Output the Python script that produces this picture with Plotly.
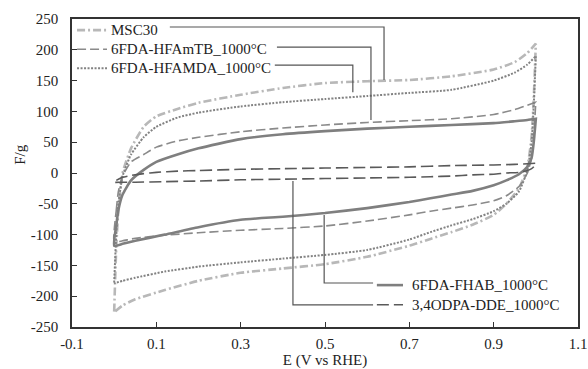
import plotly.graph_objects as go

# ---------------- data ----------------
E_up = [0, 0.005, 0.01, 0.02, 0.04, 0.07, 0.1, 0.15, 0.2, 0.3, 0.4, 0.5, 0.6, 0.7, 0.8, 0.9, 0.95, 0.98, 1.0]
E_dn = [1.0, 0.995, 0.99, 0.98, 0.96, 0.93, 0.9, 0.85, 0.8, 0.75, 0.7, 0.6, 0.5, 0.4, 0.3, 0.2, 0.12, 0.05, 0.02, 0.0]

msc30_up = [-225, -120, -60, 0, 40, 75, 92, 104, 114, 127, 138, 146, 149, 151, 157, 168, 180, 195, 210]
msc30_dn = [210, 120, 60, 10, -25, -50, -68, -84, -96, -107, -118, -136, -148, -155, -162, -175, -190, -205, -215, -226]

hfamtb_up = [-112, -60, -30, -5, 18, 30, 42, 52, 58, 67, 73, 78, 82, 85, 88, 95, 103, 110, 115]
hfamtb_dn = [115, 60, 25, 0, -22, -37, -45, -52, -57, -62, -68, -78, -86, -90, -93, -97, -101, -106, -110, -112]

hfamda_up = [-178, -100, -50, -5, 30, 58, 75, 90, 98, 108, 115, 120, 125, 130, 135, 150, 163, 176, 190]
hfamda_dn = [190, 110, 50, 5, -30, -50, -62, -75, -85, -96, -108, -125, -133, -139, -145, -152, -160, -170, -175, -179]

fhab_up = [-118, -85, -60, -35, -12, 5, 18, 30, 40, 55, 63, 68, 72, 75, 78, 81, 84, 86, 88]
fhab_dn = [88, 50, 25, 10, -2, -12, -20, -29, -35, -41, -47, -57, -65, -71, -76, -88, -100, -110, -115, -118]

odpa_up = [-15, -12, -10, -7, -4, -1, 1, 3, 4, 6, 7, 8, 9, 10, 12, 13, 14, 15, 16]
odpa_dn = [16, 10, 7, 4, 1, 0, -2, -3, -5, -6, -7, -8, -9, -10, -11, -13, -14, -15, -15, -15]

names = ["MSC30", "6FDA-HFAmTB_1000°C", "6FDA-HFAMDA_1000°C", "6FDA-FHAB_1000°C", "3,4ODPA-DDE_1000°C"]

x_tickvals = [-0.1, 0.1, 0.3, 0.5, 0.7, 0.9, 1.1]
x_ticktext = ["-0.1", "0.1", "0.3", "0.5", "0.7", "0.9", "1.1"]
y_tickvals = [-250, -200, -150, -100, -50, 0, 50, 100, 150, 200, 250]
y_ticktext = ["-250", "-200", "-150", "-100", "-50", "0", "50", "100", "150", "200", "250"]

# legend key placement (data coords): sample x0, x1, text x, y
legend_keys = [
    (-0.088, -0.017, -0.012, 232),
    (-0.088, -0.017, -0.012, 201),
    (-0.088, -0.017, -0.012, 170),
    (0.623, 0.685, 0.702, -182),
    (0.623, 0.685, 0.702, -214),
]

# leader lines: (x_start, y_start, x_corner, y_end)
leaders = [
    (0.132, 237, 0.640, 151),
    (0.386, 204.5, 0.609, 86),
    (0.381, 175, 0.566, 131),
    (0.614, -178.6, 0.498, -68),
    (0.614, -214, 0.424, -13),
]

# ---------------- figure ----------------
FONT = "Liberation Serif, Times New Roman, serif"
styles = [
    dict(color="#b8b8b8", width=2.6, dash="8px,3px,2px,3px"),
    dict(color="#8a8a8a", width=1.6, dash="9px,4px"),
    dict(color="#828282", width=2.0, dash="2px,1.5px"),
    dict(color="#7f7f7f", width=2.6, dash="solid"),
    dict(color="#5a5a5a", width=1.6, dash="12px,5px"),
]
series = [(msc30_up, msc30_dn), (hfamtb_up, hfamtb_dn), (hfamda_up, hfamda_dn),
          (fhab_up, fhab_dn), (odpa_up, odpa_dn)]

fig = go.Figure()
for name, (up, dn), st in zip(names, series, styles):
    fig.add_trace(go.Scatter(
        x=E_up + E_dn, y=up + dn, mode="lines", name=name, showlegend=False,
        line=dict(color=st["color"], width=st["width"], dash=st["dash"],
                  shape="spline", smoothing=0.5),
    ))

shapes = []
annotations = []
for xs, ys, xc, ye in leaders:
    shapes.append(dict(type="path", xref="x", yref="y",
                       path=f"M{xs},{ys} L{xc},{ys} L{xc},{ye}",
                       line=dict(color="#555555", width=1.2)))
for name, st, (x0, x1, xt, yk) in zip(names, styles, legend_keys):
    shapes.append(dict(type="line", xref="x", yref="y", x0=x0, x1=x1, y0=yk, y1=yk,
                       line=dict(color=st["color"], width=st["width"], dash=st["dash"])))
    annotations.append(dict(text=name, xref="x", yref="y", x=xt, y=yk, xanchor="left",
                            yanchor="middle", showarrow=False,
                            font=dict(family=FONT, size=15, color="#222222")))

annotations.append(dict(text="F/g", xref="paper", yref="paper", x=-0.103, y=0.562,
                        textangle=-90, showarrow=False, xanchor="center", yanchor="middle",
                        font=dict(family=FONT, size=15, color="#222")))

fig.update_layout(
    width=588, height=369,
    margin=dict(l=72, r=10, t=19, b=42),
    paper_bgcolor="white", plot_bgcolor="white",
    font=dict(family=FONT, size=15, color="#222222"),
    showlegend=False,
    shapes=shapes,
    annotations=annotations,
    xaxis=dict(range=[-0.1, 1.1], tickvals=x_tickvals, ticktext=x_ticktext,
               ticks="inside", ticklen=5, tickwidth=1.2, tickcolor="#333",
               showline=True, linecolor="#333", linewidth=1.5, mirror=True,
               showgrid=False, zeroline=False, ticklabelstandoff=2, automargin=False,
               tickfont=dict(family=FONT, size=15, color="#222"),
               title=dict(text="E (V vs RHE)", font=dict(family=FONT, size=15, color="#222"), standoff=7)),
    yaxis=dict(range=[-250, 250], tickvals=y_tickvals, ticktext=y_ticktext,
               ticks="inside", ticklen=5, tickwidth=1.2, tickcolor="#333",
               showline=True, linecolor="#333", linewidth=1.5, mirror=True,
               showgrid=False, zeroline=False, ticklabelstandoff=9, automargin=False,
               tickfont=dict(family=FONT, size=15, color="#222")),
)

fig.write_html("out.html", config={"displayModeBar": False},
               post_script="document.body.style.margin='0px';")
